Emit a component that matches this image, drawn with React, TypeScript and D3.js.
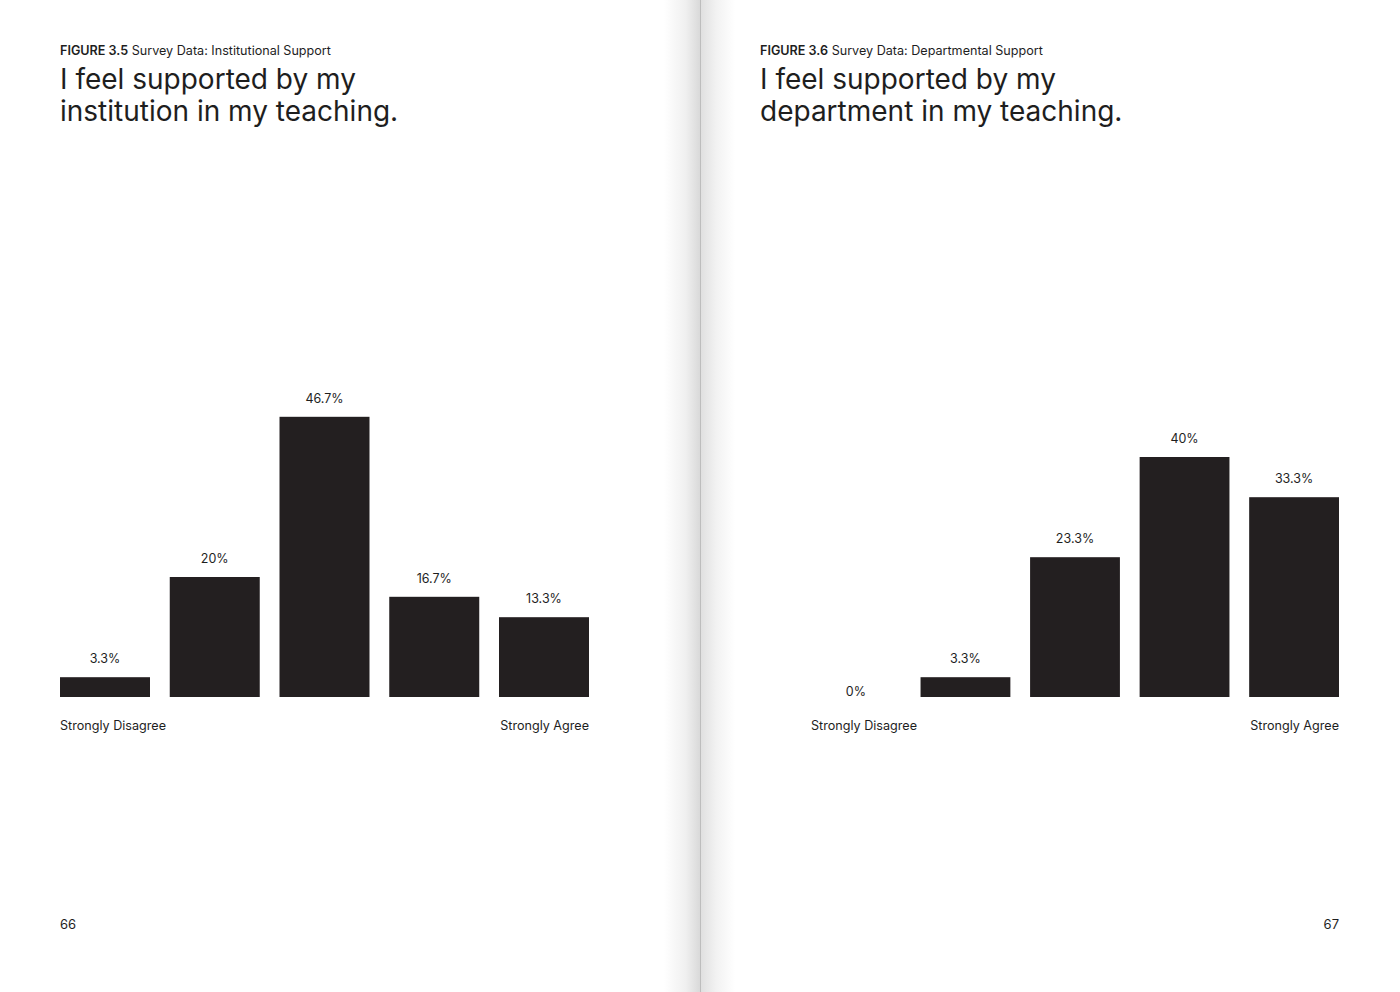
import * as d3 from "d3";

const categories = [
  "Strongly Disagree",
  "Disagree",
  "Neutral",
  "Agree",
  "Strongly Agree",
];
const institutionValues = [3.3, 20, 46.7, 16.7, 13.3];
const departmentValues = [0, 3.3, 23.3, 40, 33.3];

const pages = [
  {
    figure: "FIGURE 3.5",
    caption: "Survey Data: Institutional Support",
    title: ["I feel supported by my", "institution in my teaching."],
    values: institutionValues,
    pageNumber: "66",
  },
  {
    figure: "FIGURE 3.6",
    caption: "Survey Data: Departmental Support",
    title: ["I feel supported by my", "department in my teaching."],
    values: departmentValues,
    pageNumber: "67",
  },
];

const W = 1400;
const H = 992;
const FONT = "Inter, 'Noto Sans', sans-serif";
const INK = "#231f20";
const TEXT = "#1e1e1e";
const BASELINE = 697;

function Page({
  page,
  textLeft,
  chartLeft,
  chartRight,
  numberRight,
}: {
  page: (typeof pages)[number];
  textLeft: number;
  chartLeft: number;
  chartRight: number;
  numberRight: boolean;
}) {
  const x = d3
    .scaleBand<string>()
    .domain(categories)
    .range([chartLeft, chartRight])
    .paddingInner(0.18)
    .paddingOuter(0);
  const h = d3.scaleLinear().domain([0, 50]).range([0, 300]);

  return (
    <g fontFamily={FONT} fill={TEXT}>
      {/* header */}
      <text x={textLeft} y={55} fontSize={12.6}>
        <tspan fontWeight={600}>{page.figure}</tspan>
        <tspan> {page.caption}</tspan>
      </text>
      {page.title.map((line, i) => (
        <text key={i} x={textLeft} y={89 + i * 32} fontSize={28}>
          {line}
        </text>
      ))}

      {/* bars */}
      {page.values.map((v, i) => {
        const cx = x(categories[i])! + x.bandwidth() / 2;
        const top = BASELINE - h(v);
        return (
          <g key={categories[i]}>
            {v > 0 && (
              <rect
                x={x(categories[i])}
                y={top}
                width={x.bandwidth()}
                height={h(v)}
                fill={INK}
              />
            )}
            <text
              x={cx}
              y={v > 0 ? top - 14 : BASELINE - 1}
              textAnchor="middle"
              fontSize={12.5}
            >
              {`${v}%`}
            </text>
          </g>
        );
      })}

      {/* end labels */}
      <text x={chartLeft} y={730} fontSize={12.6}>
        {categories[0]}
      </text>
      <text x={chartRight} y={730} fontSize={12.6} textAnchor="end">
        {categories[categories.length - 1]}
      </text>

      {/* folio */}
      <text
        x={numberRight ? chartRight : textLeft}
        y={929}
        fontSize={13}
        textAnchor={numberRight ? "end" : "start"}
      >
        {page.pageNumber}
      </text>
    </g>
  );
}

export default function App() {
  return (
    <svg
      width={W}
      height={H}
      viewBox={`0 0 ${W} ${H}`}
      style={{ position: "absolute", left: 0, top: 0, display: "block" }}
    >
      <defs>
        <linearGradient id="gutterL" x1="0" x2="1" y1="0" y2="0">
          <stop offset="0%" stopColor="#ffffff" />
          <stop offset="60%" stopColor="#f0f0f0" />
          <stop offset="100%" stopColor="#d9d9d9" />
        </linearGradient>
        <linearGradient id="gutterR" x1="0" x2="1" y1="0" y2="0">
          <stop offset="0%" stopColor="#e0e0e0" />
          <stop offset="45%" stopColor="#f2f2f2" />
          <stop offset="100%" stopColor="#ffffff" />
        </linearGradient>
      </defs>
      <rect width={W} height={H} fill="#ffffff" />
      {/* book gutter */}
      <rect x={664} y={0} width={36} height={H} fill="url(#gutterL)" />
      <rect x={700} y={0} width={1} height={H} fill="#bdbdbd" />
      <rect x={701} y={0} width={34} height={H} fill="url(#gutterR)" />

      <Page
        page={pages[0]}
        textLeft={60}
        chartLeft={60}
        chartRight={589}
        numberRight={false}
      />
      <Page
        page={pages[1]}
        textLeft={760}
        chartLeft={811}
        chartRight={1339}
        numberRight={true}
      />
    </svg>
  );
}
